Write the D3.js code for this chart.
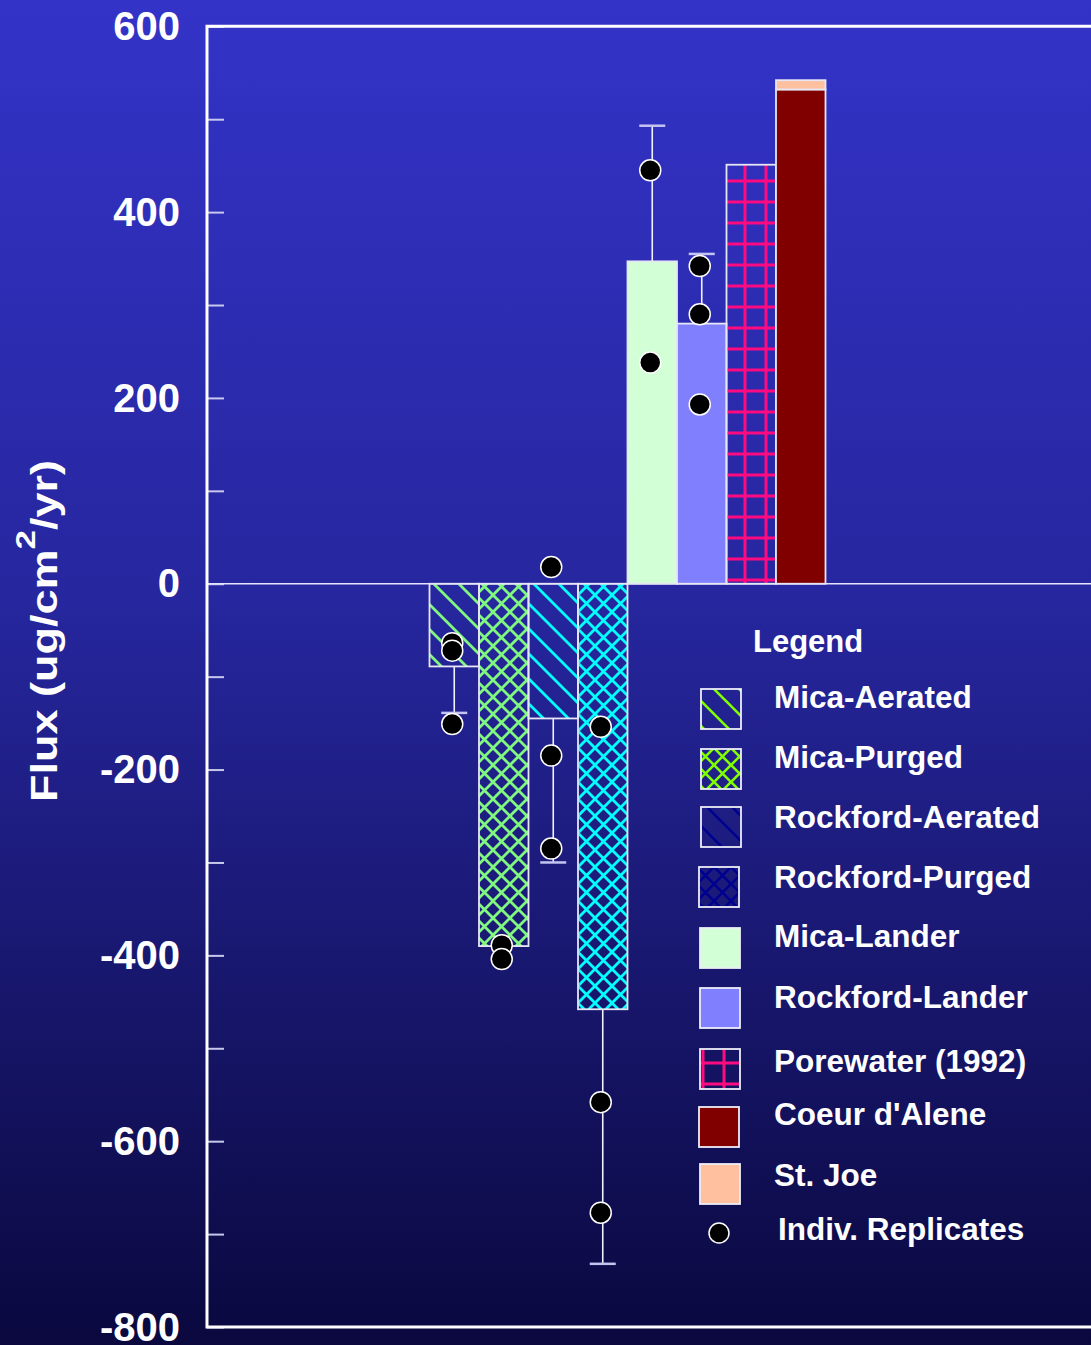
<!DOCTYPE html>
<html>
<head>
<meta charset="utf-8">
<script src="https://cdn.jsdelivr.net/npm/d3@7"></script>
<style>
  html, body { margin: 0; padding: 0; background: #0a0840; }
  svg { display: block; }
  text { font-family: "Liberation Sans", Arial, Helvetica, sans-serif; font-weight: bold; fill: #ffffff; }
</style>
</head>
<body>
<svg id="chart" width="1091" height="1345"></svg>
<script>
// Mean flux for each treatment (ug/cm^2/yr)
const categories = ["Mica-Aerated", "Mica-Purged", "Rockford-Aerated", "Rockford-Purged",
                    "Mica-Lander", "Rockford-Lander", "Porewater (1992)", "Coeur d'Alene"];
const meanFlux = [-89, -390, -145, -458, 347, 280, 451, 532];
// One-sided error bar length (null = no error bar)
const errorLength = [50, null, 155, 274, 146, 75, null, null];
// St. Joe contribution stacked on top of the Coeur d'Alene bar
const stackedCategory = "Coeur d'Alene";
const stJoeFlux = 10;
// Individual replicate values per treatment
const replicates = [
  [-64, -72, -151],
  [-389, -404],
  [18, -185, -285],
  [-154, -558, -677],
  [445, 238],
  [342, 290, 193],
  [],
  []
];
// Axis ticks
const tickValues = [600, 500, 400, 300, 200, 100, 0, -100, -200, -300, -400, -500, -600, -700, -800];
const labelledTicks = [600, 400, 200, 0, -200, -400, -600, -800];
// Legend entries
const legendNames = ["Mica-Aerated", "Mica-Purged", "Rockford-Aerated", "Rockford-Purged",
                     "Mica-Lander", "Rockford-Lander", "Porewater (1992)", "Coeur d'Alene",
                     "St. Joe", "Indiv. Replicates"];

// ---- styling ----
const barFill = {
  "Mica-Aerated": "url(#hatchGreen)",
  "Mica-Purged": "url(#crossGreen)",
  "Rockford-Aerated": "url(#hatchCyan)",
  "Rockford-Purged": "url(#crossCyan)",
  "Mica-Lander": "#d2ffd6",
  "Rockford-Lander": "#8080ff",
  "Porewater (1992)": "url(#gridPink)",
  "Coeur d'Alene": "#800000"
};
const legendFill = {
  "Mica-Aerated": "url(#hatchLime)",
  "Mica-Purged": "url(#crossLime)",
  "Rockford-Aerated": "url(#hatchNavy)",
  "Rockford-Purged": "url(#crossNavy)",
  "Mica-Lander": "#d2ffd6",
  "Rockford-Lander": "#8080ff",
  "Porewater (1992)": "url(#gridPink)",
  "Coeur d'Alene": "#800000",
  "St. Joe": "#ffc0a0"
};
// legend row layout: swatch centre y and text baseline y
const legendRows = [
  {sy: 709, ty: 708, sx: 721}, {sy: 769, ty: 768, sx: 721}, {sy: 827, ty: 828, sx: 721},
  {sy: 887, ty: 888, sx: 719}, {sy: 948, ty: 947, sx: 720}, {sy: 1008, ty: 1008, sx: 720},
  {sy: 1069, ty: 1072, sx: 720}, {sy: 1127, ty: 1125, sx: 719}, {sy: 1184, ty: 1186, sx: 720},
  {sy: 1233, ty: 1240, sx: 719}
];

const W = 1091, H = 1345;
const svg = d3.select("#chart");
const defs = svg.append("defs");

// background gradient
const bg = defs.append("linearGradient").attr("id", "bg").attr("x1", 0).attr("y1", 0).attr("x2", 0).attr("y2", 1);
bg.append("stop").attr("offset", "0%").attr("stop-color", "#3333c8");
bg.append("stop").attr("offset", "45%").attr("stop-color", "#26269e");
bg.append("stop").attr("offset", "100%").attr("stop-color", "#0a083e");
svg.append("rect").attr("width", W).attr("height", H).attr("fill", "url(#bg)");

// fill patterns
function hatch(id, color, size, cross, width) {
  const p = defs.append("pattern").attr("id", id).attr("patternUnits", "userSpaceOnUse")
    .attr("width", size).attr("height", size);
  const e = 3;
  let d = `M${-e},${-e}L${size + e},${size + e}M${-e},${size - e}L${e},${size + e}M${size - e},${-e}L${size + e},${e}`;
  if (cross) d += `M${size + e},${-e}L${-e},${size + e}M${-e},${e}L${e},${-e}M${size - e},${size + e}L${size + e},${size - e}`;
  p.append("path").attr("d", d).attr("stroke", color).attr("stroke-width", width).attr("fill", "none");
}
hatch("hatchGreen", "#80f880", 25, false, 2.8);
hatch("crossGreen", "#80f880", 17, true, 2.8);
hatch("hatchCyan", "#00ffff", 25, false, 2.8);
hatch("crossCyan", "#00ffff", 17, true, 2.8);
hatch("hatchLime", "#80ff00", 25, false, 2.6);
hatch("crossLime", "#80ff00", 17, true, 2.6);
hatch("hatchNavy", "#000090", 25, false, 2.6);
hatch("crossNavy", "#000090", 17, true, 2.6);
const grid = defs.append("pattern").attr("id", "gridPink").attr("patternUnits", "userSpaceOnUse")
  .attr("width", 21).attr("height", 21);
grid.append("path").attr("d", "M10,0V21M0,13H21").attr("stroke", "#ff0a80").attr("stroke-width", 3);

// scales
const y = d3.scaleLinear().domain([-800, 600]).range([1327, 26.3]);
const x = d3.scaleBand().domain(categories).range([429.5, 825.5]).padding(0);
const plotLeft = 207;

// y axis: inward ticks, labels every 200 (plain hyphen for negatives)
const axis = d3.axisLeft(y).tickValues(tickValues).tickSizeInner(-17).tickSizeOuter(0).tickPadding(27)
  .tickFormat(d => labelledTicks.includes(d) ? String(d) : "");
const gAxis = svg.append("g").attr("transform", `translate(${plotLeft},0)`).call(axis);
gAxis.select(".domain").remove();
gAxis.selectAll(".tick line").attr("stroke", "#c8c8ec").attr("stroke-width", 2);
gAxis.selectAll(".tick text").attr("fill", "#ffffff").attr("font-size", 40)
  .attr("font-family", "'Liberation Sans', Arial, sans-serif").attr("font-weight", "bold")
  .attr("dy", "0.33em");

// zero line
svg.append("line").attr("x1", plotLeft).attr("x2", W).attr("y1", y(0)).attr("y2", y(0))
  .attr("stroke", "#e4e4ff").attr("stroke-width", 1.5);

// frame
svg.append("path")
  .attr("d", `M${W},${y(600)}H${plotLeft}V${y(-800)}H${W}`)
  .attr("fill", "none").attr("stroke", "#ffffff").attr("stroke-width", 3);

const data = categories.map((c, i) => ({c, v: meanFlux[i], err: errorLength[i], reps: replicates[i]}));

// error bars (drawn outward from the bar end)
const eb = svg.append("g");
data.filter(d => d.err != null).forEach(d => {
  const cx = x(d.c) + x.bandwidth() / 2;
  const end = d.v + Math.sign(d.v) * d.err;
  eb.append("line").attr("x1", cx).attr("x2", cx).attr("y1", y(d.v)).attr("y2", y(end))
    .attr("stroke", "#f0f0ff").attr("stroke-width", 1.6);
  eb.append("line").attr("x1", cx - 13).attr("x2", cx + 13).attr("y1", y(end)).attr("y2", y(end))
    .attr("stroke", "#c4c4f0").attr("stroke-width", 2.5);
});

// bars
svg.append("g").selectAll("rect").data(data).join("rect")
  .attr("x", d => x(d.c))
  .attr("width", x.bandwidth())
  .attr("y", d => y(Math.max(0, d.v)))
  .attr("height", d => Math.abs(y(d.v) - y(0)))
  .attr("fill", d => barFill[d.c])
  .attr("stroke", "#e6e6f4").attr("stroke-width", 1.8);

// stacked St. Joe segment
const base = meanFlux[categories.indexOf(stackedCategory)];
svg.append("rect")
  .attr("x", x(stackedCategory)).attr("width", x.bandwidth())
  .attr("y", y(base + stJoeFlux)).attr("height", y(base) - y(base + stJoeFlux))
  .attr("fill", "#ffc0a0").attr("stroke", "#e6e6f4").attr("stroke-width", 1.8);

// individual replicates
const reps = data.flatMap(d => d.reps.map(v => ({c: d.c, v})));
svg.append("g").selectAll("circle").data(reps).join("circle")
  .attr("cx", d => x(d.c) + x.bandwidth() / 2 - 2)
  .attr("cy", d => y(d.v))
  .attr("r", 10.5)
  .attr("fill", "#000000").attr("stroke", "#ffffff").attr("stroke-width", 1.5);

// y axis title
const titleG = svg.append("g").attr("transform", "translate(57,631) rotate(-90)");
const scaleG = titleG.append("g");
const title = scaleG.append("text").attr("text-anchor", "middle").attr("font-size", 36);
title.append("tspan").text("Flux (ug/cm");
title.append("tspan").attr("font-size", 28).attr("dy", -22).text("2");
title.append("tspan").attr("dy", 22).text("/yr)");
const tw = title.node().getComputedTextLength();
scaleG.attr("transform", `scale(${342 / tw},1)`);

// legend
const lg = svg.append("g");
lg.append("text").attr("x", 753).attr("y", 652).attr("font-size", 31).text("Legend");
legendNames.forEach((name, i) => {
  const r = legendRows[i];
  if (name === "Indiv. Replicates") {
    lg.append("circle").attr("cx", r.sx).attr("cy", r.sy).attr("r", 10)
      .attr("fill", "#000").attr("stroke", "#fff").attr("stroke-width", 1.5);
    lg.append("text").attr("x", 778).attr("y", r.ty).attr("font-size", 31.5).text(name);
  } else {
    lg.append("rect").attr("x", r.sx - 20).attr("y", r.sy - 20).attr("width", 40).attr("height", 40)
      .attr("fill", legendFill[name]).attr("stroke", "#eeeef8").attr("stroke-width", 1.8);
    lg.append("text").attr("x", 774).attr("y", r.ty).attr("font-size", 31.5).text(name);
  }
});
</script>
</body>
</html>
